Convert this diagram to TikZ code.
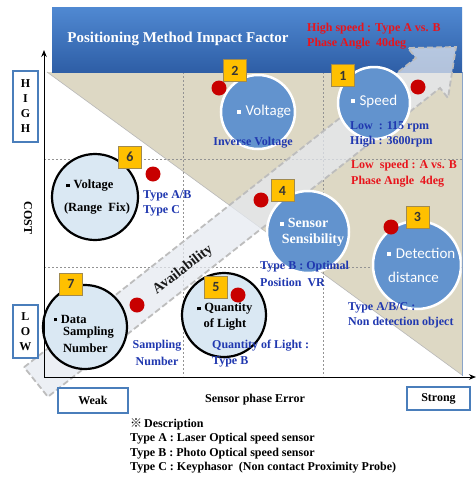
\documentclass[tikz,border=0pt]{standalone}
\usepackage{fontspec}
\setmainfont{Liberation Serif}
\newfontfamily\calib{Carlito}
\newfontfamily\cjk{Noto Sans CJK SC}
\usetikzlibrary{arrows.meta}
\definecolor{beige}{HTML}{DDD8C4}
\definecolor{txtblue}{HTML}{2038B0}
\definecolor{txtred}{HTML}{E8141C}
\definecolor{circblue}{HTML}{6293CE}
\definecolor{circlight}{HTML}{DAE8F3}
\definecolor{dotred}{HTML}{C80000}
\definecolor{numyellow}{HTML}{FFC000}
\definecolor{numedge}{HTML}{A08A50}
\definecolor{numtext}{HTML}{353535}
\definecolor{boxblue}{HTML}{4A7EBB}
\definecolor{bannertop}{HTML}{5089D2}
\definecolor{bannerbot}{HTML}{2E5EA6}
\definecolor{bandfill}{HTML}{E6EAF1}
\definecolor{bandedge}{HTML}{BDBDBD}
\definecolor{frameblue}{HTML}{8AA4C8}
\newcommand{\sqb}{\raisebox{0.3ex}{\rule{0.28em}{0.28em}}\hspace{0.3em}}
\begin{document}
\begin{tikzpicture}[x=1pt,y=-1pt,
  lbl/.style={font=\fontsize{12}{14}\selectfont\bfseries, inner sep=0pt},
  bluetxt/.style={lbl, text=txtblue, anchor=west},
  redtxt/.style={lbl, text=txtred, anchor=west},
  bluecirc/.style={circle, fill=circblue, draw=white, line width=2.5pt, inner sep=0pt, minimum size=#1},
  lightcirc/.style={circle, fill=circlight, draw=black, line width=2.2pt, inner sep=0pt, minimum size=#1},
  reddot/.style={circle, fill=dotred, inner sep=0pt, minimum size=15pt},
  numbox/.style={rectangle, fill=numyellow, draw=numedge, line width=0.6pt, minimum width=23pt, minimum height=22pt, inner sep=0pt, font=\calib\fontsize{14}{14}\selectfont\bfseries, text=numtext},
  sidebox/.style={rectangle, draw=boxblue, line width=2.5pt, fill=white, inner sep=0pt, font=\fontsize{12}{15}\selectfont\bfseries, align=center},
  circw/.style={text=white, font=\calib\fontsize{15}{17}\selectfont, inner sep=0pt},
  circsw/.style={text=white, font=\fontsize{14}{16}\selectfont\bfseries, inner sep=0pt},
  circk/.style={text=black, font=\fontsize{12.5}{14}\selectfont\bfseries, inner sep=0pt},
  gridline/.style={draw=gray!85, dash pattern=on 2pt off 2pt, line width=0.5pt},
  axisline/.style={draw=black, line width=1pt, -{Stealth[length=7pt,width=5.5pt]}},
]
\useasboundingbox (0,0) rectangle (476,480);
\fill[white] (0,0) rectangle (476,480);

% beige triangle
\fill[beige] (47,72) -- (462,72) -- (462,375) -- cycle;
\draw[gray!55, line width=0.6pt] (47,72) -- (462,375);
\draw[frameblue, line width=1pt] (462,72) -- (462,376);

% grid
\draw[gridline] (183,72) -- (183,376);
\draw[gridline] (323,72) -- (323,376);
\draw[gridline] (44,159) -- (462,159);
\draw[gridline] (44,267) -- (462,267);

% banner
\shade[top color=bannertop, bottom color=bannerbot] (52,7) rectangle (462,72);
\node[font=\fontsize{15}{17}\selectfont\bfseries, text=white, inner sep=0pt] (title) at (178,39) {Positioning Method Impact Factor};

% availability band
\fill[bandfill, opacity=0.72] (24.1,367.2) -- (416,58) -- (408,48) -- (456,47) -- (448,98) -- (440,88) -- (47.9,396.8) -- cycle;
\draw[bandedge, line width=1.8pt, dash pattern=on 6pt off 3pt] (24.1,367.2) -- (416,58) -- (408,48) -- (456,47) -- (448,98) -- (440,88) -- (47.9,396.8) -- cycle;
\node[font=\fontsize{14.5}{16}\selectfont\bfseries, text=black!90, rotate=38, inner sep=0pt] (avail) at (183,270) {Availability};

% red labels
\node[redtxt] (r1) at (307,29) {High speed : Type A vs. B};
\node[redtxt] (r2) at (307,44) {Phase Angle\ \ 40deg};
\node[redtxt] (r3) at (351,166) {Low\ \ speed : A vs. B};
\node[redtxt] (r4) at (351,182) {Phase Angle\ \ 4deg};

% circle 1 Speed
\node[bluecirc=72pt] (c1) at (374,103) {};
\node[circw] (c1t) at (374,101) {\sqb Speed};
\node[numbox] (n1) at (343,75.5) {1};
\node[reddot] (d1) at (418,87) {};
\node[bluetxt] (l1a) at (350,127) {Low\ \ : 115 rpm};
\node[bluetxt] (l1b) at (350,142) {High : 3600rpm};

% circle 2 Voltage
\node[bluecirc=74pt] (c2) at (258,112) {};
\node[circw] (c2t) at (264,112) {\sqb Voltage};
\node[numbox] (n2) at (235,70.5) {2};
\node[reddot] (d2) at (219,88) {};
\node[lbl, text=txtblue] (l2) at (253,143) {Inverse Voltage};

% circle 3 Detection distance
\begin{scope}
\clip (0,0) rectangle (461.5,480);
\node[bluecirc=88pt] (c3) at (417,265) {};
\node[circw, anchor=west] (c3a) at (387,253) {\sqb Detection};
\node[circw, anchor=west] (c3b) at (388,277) {distance};
\end{scope}
\node[numbox] (n3) at (417.5,217) {3};
\node[reddot] (d3) at (391,227) {};
\node[bluetxt] (l3a) at (348,308) {Type A/B/C :};
\node[bluetxt] (l3b) at (348,323) {Non detection object};

% circle 4 Sensor Sensibility
\node[bluecirc=82pt] (c4) at (308,232) {};
\node[circsw] (c4a) at (304,223) {\sqb Sensor};
\node[circsw] (c4b) at (313,240) {Sensibility};
\node[numbox] (n4) at (282.5,190.5) {4};
\node[reddot] (d4) at (261,200) {};
\node[bluetxt] (l4a) at (260,267) {Type B : Optimal};
\node[bluetxt] (l4b) at (260,282) {Position\ \ VR};

% circle 5 Quantity of Light
\node[lightcirc=84pt] (c5) at (224,315) {};
\node[circk, anchor=west] (c5a) at (197,309) {\sqb Quantity};
\node[circk] (c5b) at (225,324) {of Light};
\node[numbox] (n5) at (216,287.5) {5};
\node[reddot] (d5) at (238,295) {};
\node[bluetxt] (l5a) at (212,346) {Quantity of Light :};
\node[bluetxt] (l5b) at (212,362) {Type B};

% circle 6 Voltage (Range Fix)
\node[lightcirc=86pt] (c6) at (95,197) {};
\node[circk] (c6a) at (90,186) {\sqb Voltage};
\node[circk] (c6b) at (97,209) {(Range\ \ Fix)};
\node[numbox] (n6) at (130,157) {6};
\node[reddot] (d6) at (153,174) {};
\node[bluetxt] (l6a) at (143,196) {Type A/B};
\node[bluetxt] (l6b) at (143,211) {Type C};

% circle 7 Data Sampling Number
\node[lightcirc=84pt] (c7) at (85,327) {};
\node[circk, anchor=west] (c7a) at (53.5,319) {\sqb Data};
\node[circk, anchor=west] (c7b) at (63,333) {Sampling};
\node[circk, anchor=west] (c7c) at (63,348) {Number};
\node[numbox] (n7) at (71,284) {7};
\node[reddot] (d7) at (137,305) {};
\node[lbl, text=txtblue] (l7a) at (157,346) {Sampling};
\node[lbl, text=txtblue] (l7b) at (157,361) {Number};

% axes
\coordinate (o) at (44,377);
\coordinate (ytop) at (44,50);
\coordinate (xend) at (476,377);
\draw[axisline] (o) -- (ytop);
\draw[axisline] (o) -- (xend);

% side boxes
\node[sidebox, minimum width=25pt, minimum height=71pt] (high) at (25.5,106.5) {H\\I\\G\\H};
\node[sidebox, minimum width=25pt, minimum height=53pt] (low) at (25.5,331.5) {L\\O\\W};
\node[lbl, rotate=-90] (cost) at (28,218) {COST};
\node[sidebox, minimum width=70pt, minimum height=25pt] (weak) at (93,400.5) {Weak};
\node[sidebox, minimum width=63pt, minimum height=23pt] (strong) at (438.5,398.5) {Strong};
\node[lbl] (spe) at (255,400) {Sensor phase Error};

% description
\node[lbl, anchor=west] (desc0) at (130,424) {{\cjk ※}\,Description};
\node[lbl, anchor=west] (desc1) at (130,439) {Type A : Laser Optical speed sensor};
\node[lbl, anchor=west] (desc2) at (130,454) {Type B : Photo Optical speed sensor};
\node[lbl, anchor=west] (desc3) at (130,468) {Type C : Keyphasor\ \ (Non contact Proximity Probe)};
\end{tikzpicture}
\end{document}
